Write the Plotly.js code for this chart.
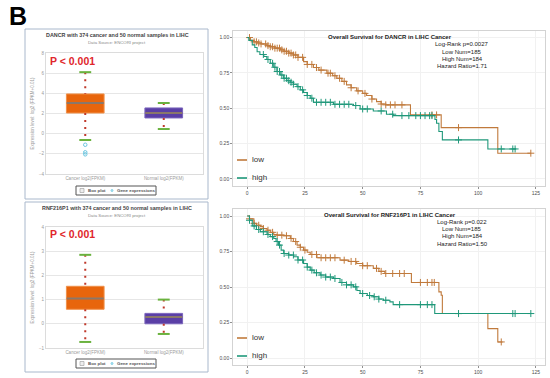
<!DOCTYPE html>
<html><head><meta charset="utf-8">
<script src="https://cdn.plot.ly/plotly-3.0.1.min.js"></script>
<style>html,body{margin:0;padding:0;background:#fff}#chart{width:550px;height:378px}</style>
</head><body><div id="chart"></div>
<script>
// ---------- Box plot data ----------
const boxCategories = ['Cancer log2(FPKM)', 'Normal log2(FPKM)'];
const dancrQ1 = [2.05, 1.56];
const dancrMedian = [3.04, 2.05];
const dancrQ3 = [3.94, 2.55];
const dancrLowWhisker = [-0.63, 0.46];
const dancrHighWhisker = [6.1, 3.04];
const dancrCancerOutliers = [-1.1, -1.85, -2.05];
const rnfQ1 = [0.6, 0.0];
const rnfMedian = [1.05, 0.28];
const rnfQ3 = [1.55, 0.43];
const rnfLowWhisker = [-0.75, -0.42];
const rnfHighWhisker = [2.85, 1.0];

// ---------- Kaplan-Meier data (months, survival) ----------
const dancrLowTime = [0,1.4,3,4.3,6,8.6,10,12,14.4,16,18,20,22,24.4,26,28.7,31,34.5,37,38.8,41,43,45,47.4,50,51.7,54,56,58,60,70.7,84,108.5,122.8];
const dancrLowSurv = [1,0.98,0.97,0.962,0.955,0.943,0.935,0.925,0.913,0.903,0.89,0.877,0.86,0.83,0.81,0.788,0.77,0.748,0.73,0.712,0.69,0.665,0.645,0.623,0.605,0.59,0.565,0.547,0.53,0.524,0.453,0.363,0.182,0.182];
const dancrLowCensor = [1,3,4,5,6,8,9,10,11,12,13,14,15,16,17,18,19,20,21,22,24,26,28,30,32,35,36,38,40,42,45,48,51,54,58,60,62,64,67,80,82,91.5,122.8];
const dancrHighTime = [0,0.7,2.2,3.3,4.3,5.5,7.2,8.5,10,11.5,12.9,14.3,15.8,17.2,18.7,20,21.6,23,24.4,26,27.3,28.7,37.4,46,48.9,54.6,60.3,63.2,81.3,82,83,84.5,104.2,116.4];
const dancrHighSurv = [1,0.98,0.948,0.93,0.9,0.88,0.866,0.845,0.818,0.79,0.76,0.735,0.712,0.695,0.684,0.67,0.653,0.63,0.611,0.59,0.571,0.542,0.528,0.519,0.495,0.481,0.458,0.448,0.42,0.394,0.335,0.276,0.212,0.212];
const dancrHighCensor = [7,9,11,12,13,14,15,16,17,18,19,20,22,24,26,28,30,32,34,36,38,40,42,44,47,50,52,58,63,67,70,73,75,77,79,80,91.5,110,115,116];

const rnfLowTime = [0,1,2.9,4,5.7,7,8.6,10,11.5,13,15.8,18.7,20,21.6,23,24.4,26,27.3,30.2,40.2,44,47.4,50,54.6,57,59.6,71.1,83,84,84.5,104.2,108.5,110.6];
const rnfLowSurv = [1,0.98,0.948,0.935,0.925,0.912,0.9,0.885,0.87,0.865,0.861,0.842,0.82,0.795,0.78,0.76,0.745,0.729,0.706,0.689,0.68,0.666,0.65,0.631,0.61,0.595,0.532,0.466,0.442,0.313,0.207,0.113,0.113];
const rnfLowCensor = [1,3,5,7,9,11,13,15,17,19,21,23,25,28,30,32,34,36,38,42,45,47,50,52,56,58,60,63,66,68,75,78,80,81,91.5,110];
const rnfHighTime = [0,1,2.2,4,5.7,8.6,10,11.5,12.5,13.6,14.7,15.8,18,20.1,22,24.4,26,27.3,29,31.6,34,37.4,40.2,43,46,47.5,48.9,52,54.6,57,59,61.8,63.2,81.2,122.8];
const rnfHighSurv = [1,0.97,0.93,0.905,0.889,0.87,0.855,0.842,0.82,0.795,0.76,0.736,0.725,0.713,0.69,0.666,0.64,0.619,0.6,0.584,0.57,0.56,0.532,0.515,0.501,0.475,0.454,0.44,0.431,0.415,0.407,0.395,0.376,0.313,0.313];
const rnfHighCensor = [1,3,5,7,9,11,13,14,16,18,20,22,24,26,28,30,32,34,36,38,41,43,45,47,50,53,55,57,60,66,75,78,80,91.5,115,116,122.8];

const kmTicks = [0,25,50,75,100,125];
const survTicks = [0,0.25,0.5,0.75,1];
const survTickText = ['0.00','0.25','0.50','0.75','1.00'];

// ---------- helpers ----------
const W = 550, H = 378;
const PX = x => x / W;
const PY = y => 1 - y / H;
const ORANGE = '#e8650c', ORANGE_LINE = '#f0914a';
const PURPLE = '#5a3fa6', PURPLE_LINE = '#7a64bb';
const LOW = '#c07a3c', HIGH = '#1f987a';
const FONT = 'Liberation Sans, Arial, sans-serif';

function survAt(times, surv, t) {
  let s = surv[0];
  for (let i = 0; i < times.length; i++) { if (times[i] <= t) s = surv[i]; }
  return s;
}

const traces = [];
function addBoxPanel(q1, med, q3, lw, hw, outliers, xa, ya) {
  const fills = [ORANGE, PURPLE], lines = [ORANGE_LINE, PURPLE_LINE];
  for (let i = 0; i < 2; i++) {
    traces.push({type:'box', x:[i], q1:[q1[i]], median:[med[i]], q3:[q3[i]],
      lowerfence:[q1[i]], upperfence:[q3[i]], fillcolor:fills[i],
      line:{color:lines[i], width:1}, width:0.48, whiskerwidth:0, boxpoints:false,
      xaxis:xa, yaxis:ya, showlegend:false, hoverinfo:'skip', name:boxCategories[i]});
    traces.push({type:'scatter', mode:'lines', x:[i,i,null,i,i], y:[hw[i],q3[i],null,q1[i],lw[i]],
      line:{color:'#c0392b', width:2, dash:'2px,5px'}, xaxis:xa, yaxis:ya, showlegend:false, hoverinfo:'skip'});
  }
  traces.push({type:'scatter', mode:'markers', x:[0,1], y:med,
    marker:{symbol:'line-ew', size:26.5, line:{color:'#8a776a', width:2}},
    xaxis:xa, yaxis:ya, showlegend:false, hoverinfo:'skip'});
  traces.push({type:'scatter', mode:'markers', x:[0,0,1,1], y:[hw[0],lw[0],hw[1],lw[1]],
    marker:{symbol:'line-ew', size:8.5, line:{color:'#6ab23e', width:2}},
    xaxis:xa, yaxis:ya, showlegend:false, hoverinfo:'skip'});
  if (outliers.length) traces.push({type:'scatter', mode:'markers', name:'Gene expressions',
    x:outliers.map(()=>0), y:outliers,
    marker:{symbol:'circle-open', size:3.5, color:'#6cc6e0', line:{width:1}},
    xaxis:xa, yaxis:ya, showlegend:false, hoverinfo:'skip'});
}
addBoxPanel(dancrQ1, dancrMedian, dancrQ3, dancrLowWhisker, dancrHighWhisker, dancrCancerOutliers, 'x', 'y');
addBoxPanel(rnfQ1, rnfMedian, rnfQ3, rnfLowWhisker, rnfHighWhisker, [], 'x2', 'y2');

function addKM(time, surv, censor, color, name, xa, ya) {
  traces.push({type:'scatter', mode:'lines', x:time, y:surv, line:{shape:'hv', color:color, width:1.1},
    name:name, xaxis:xa, yaxis:ya, showlegend:false, hoverinfo:'skip'});
  traces.push({type:'scatter', mode:'markers', x:censor, y:censor.map(t=>survAt(time,surv,t)),
    marker:{symbol:'cross-thin', size:5, color:color, line:{color:color, width:1}},
    xaxis:xa, yaxis:ya, showlegend:false, hoverinfo:'skip'});
}
addKM(dancrLowTime, dancrLowSurv, dancrLowCensor, LOW, 'low', 'x3', 'y3');
addKM(dancrHighTime, dancrHighSurv, dancrHighCensor, HIGH, 'high', 'x3', 'y3');
addKM(rnfLowTime, rnfLowSurv, rnfLowCensor, LOW, 'low', 'x4', 'y4');
addKM(rnfHighTime, rnfHighSurv, rnfHighCensor, HIGH, 'high', 'x4', 'y4');

// ---------- axes ----------
const boxX = (yanchor) => ({domain:[PX(46), PX(203)], range:[-0.5,1.5], tickvals:[0,1], ticktext:boxCategories,
  tickfont:{size:4.5, color:'#9a9a9a'}, showgrid:false, zeroline:false, showline:true, mirror:true,
  linecolor:'#dcdcdc', ticks:'', anchor:yanchor, fixedrange:true});
const boxY = (xanchor, dom, rng, dt) => ({domain:dom, range:rng, dtick:dt, tickfont:{size:4.5, color:'#9a9a9a'},
  gridcolor:'#e6e6e6', zeroline:false, showline:true, mirror:true, linecolor:'#dcdcdc', ticks:'',
  anchor:xanchor, fixedrange:true,
  title:{text:'Expression level: log2 (FPKM+0.01)', font:{size:4.5, color:'#9a9a9a'}, standoff:4}});
const kmX = (yanchor) => ({domain:[PX(233), PX(545)], range:[-6.14,128.94], tickvals:kmTicks,
  tickfont:{size:5, color:'#4d4d4d'}, ticks:'outside', ticklen:2, tickcolor:'#444', tickwidth:0.6,
  showline:true, mirror:true, linecolor:'#c8c8c8', linewidth:0.8, gridcolor:'#f1f1f1', zeroline:false,
  anchor:yanchor, fixedrange:true});
const kmY = (xanchor, dom) => ({domain:dom, range:[-0.05,1.05], tickvals:survTicks, ticktext:survTickText,
  tickfont:{size:5, color:'#4d4d4d'}, ticks:'outside', ticklen:2, tickcolor:'#444', tickwidth:0.6,
  showline:true, mirror:true, linecolor:'#c8c8c8', linewidth:0.8, gridcolor:'#f1f1f1', zeroline:false,
  anchor:xanchor, fixedrange:true});

const annotations = [];
const shapes = [];
function ann(text, x, y, size, opts) {
  annotations.push(Object.assign({text:text, x:PX(x), y:PY(y), xref:'paper', yref:'paper', showarrow:false,
    font:{size:size, color:'#333', family:FONT}, xanchor:'center', yanchor:'middle'}, opts||{}));
}
ann('<b>B</b>', 18, 16, 25, {font:{size:25, color:'#000', family:FONT}});

function boxPanelDecor(top, bottom, titleY, subY, pY, gene, legTop) {
  shapes.push({type:'rect', xref:'paper', yref:'paper', x0:PX(25), x1:PX(208), y0:PY(bottom), y1:PY(top),
    line:{color:'#a9b8cc', width:1}, fillcolor:'rgba(0,0,0,0)', layer:'below'});
  ann('<b>' + gene + ' with 374 cancer and 50 normal samples in LIHC</b>', 117, titleY, 5.4, {font:{size:5.4, color:'#444', family:FONT}});
  ann('Data Source: ENCORI project', 117, subY, 4.3, {font:{size:4.3, color:'#888', family:FONT}});
  ann('<b>P < 0.001</b>', 48, pY, 10.5, {xanchor:'left', font:{size:10.5, color:'#e0262b', family:FONT}});
  // legend box
  shapes.push({type:'rect', xref:'paper', yref:'paper', x0:PX(76), x1:PX(156), y0:PY(legTop+9), y1:PY(legTop),
    line:{color:'#555', width:1}, fillcolor:'#fff'});
  shapes.push({type:'rect', xref:'paper', yref:'paper', x0:PX(80), x1:PX(84), y0:PY(legTop+6.5), y1:PY(legTop+2.5),
    line:{color:'#999', width:0.6}, fillcolor:'#eee'});
  shapes.push({type:'circle', xref:'paper', yref:'paper', x0:PX(111), x1:PX(113), y0:PY(legTop+5.5), y1:PY(legTop+3.5),
    line:{color:'#6cc6e0', width:0.8}, fillcolor:'#bfe6f2'});
  ann('<b>Box plot</b>', 86, legTop+4.6, 4.4, {xanchor:'left', font:{size:4.4, color:'#555', family:FONT}});
  ann('<b>Gene expressions</b>', 115, legTop+4.6, 4.4, {xanchor:'left', font:{size:4.4, color:'#555', family:FONT}});
}
boxPanelDecor(29, 199, 35, 42, 61, 'DANCR', 186);
boxPanelDecor(202, 372, 208, 215, 234, 'RNF216P1', 359);

function kmDecor(gene, titleY, statsY, stats, lowY, highY) {
  ann('<b>Overall Survival for ' + gene + ' in LIHC Cancer</b>', 390, titleY, 6, {font:{size:6, color:'#222', family:FONT}});
  stats.forEach((s, i) => ann(s, 462, statsY + i * 7.3, 6, {font:{size:6, color:'#222', family:FONT}}));
  [[lowY, LOW, 'low'], [highY, HIGH, 'high']].forEach(([yy, c, t]) => {
    shapes.push({type:'line', xref:'paper', yref:'paper', x0:PX(237), x1:PX(247), y0:PY(yy), y1:PY(yy),
      line:{color:c, width:1.6}});
    ann(t, 249.5, yy - 0.5, 8, {xanchor:'left', font:{size:8, color:'#333', family:'Liberation Sans Narrow, Liberation Sans, sans-serif'}});
  });
}
kmDecor('DANCR', 37.5, 44.3, ['Log-Rank p=0.0027','Low Num=185','High Num=184','Hazard Ratio=1.71'], 160, 178);
kmDecor('RNF216P1', 215, 221.7, ['Log-Rank p=0.022','Low Num=185','High Num=184','Hazard Ratio=1.50'], 338, 356);

const layout = {
  width:W, height:H, margin:{l:0, r:0, t:0, b:0}, paper_bgcolor:'#fff', plot_bgcolor:'#fff',
  showlegend:false, font:{family:FONT},
  xaxis:boxX('y'), yaxis:boxY('x', [PY(174), PY(53)], [-4,8], 2),
  xaxis2:boxX('y2'), yaxis2:boxY('x2', [PY(348), PY(227)], [-1,4], 1),
  xaxis3:kmX('y3'), yaxis3:kmY('x3', [PY(186), PY(30.5)]),
  xaxis4:kmX('y4'), yaxis4:kmY('x4', [PY(365.1), PY(208.9)]),
  annotations:annotations, shapes:shapes
};
Plotly.newPlot('chart', traces, layout, {displayModeBar:false, staticPlot:true});
</script></body></html>
